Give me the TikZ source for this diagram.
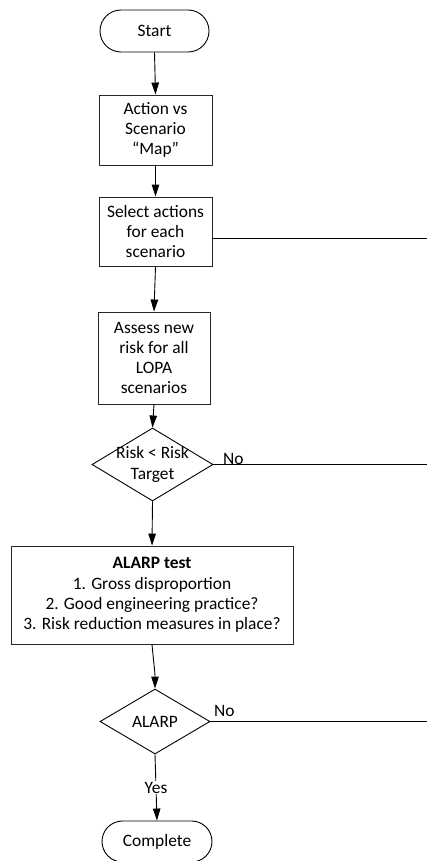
\documentclass[tikz,border=0pt]{standalone}
\usepackage{fontspec}
\setmainfont{Carlito}
\usetikzlibrary{shapes.misc,shapes.geometric,arrows.meta}
\begin{document}
\begin{tikzpicture}[x=1pt,y=1pt,
  every node/.style={font=\fontsize{17.4}{20.2}\selectfont, text=black},
  line/.style={draw=black, line width=0.9pt},
  arr/.style={line, -{Triangle[length=12pt,width=7.5pt]}},
  term/.style={rounded rectangle, draw=black, line width=0.9pt, inner sep=0pt},
  proc/.style={rectangle, draw=black!85, line width=0.9pt, inner sep=0pt, align=center},
  dec/.style={diamond, draw=black, line width=0.9pt, inner sep=0pt},
  lab/.style={inner sep=1pt}
]
\useasboundingbox (0,0) rectangle (427,-861);
\fill[white] (0,0) rectangle (427,-861);

\node[term, minimum width=109pt, minimum height=42pt] (start) at (154.5,-31) {Start};
\node[proc, minimum width=113pt, minimum height=70pt] (map) at (155.5,-130) {Action vs\\Scenario\\“Map”};
\node[proc, minimum width=113pt, minimum height=69pt] (sel) at (155.5,-231.5) {Select actions\\for each\\scenario};
\node[proc, minimum width=112pt, minimum height=92pt] (assess) at (154,-358) {Assess new\\risk for all\\LOPA\\scenarios};
\node[dec, minimum width=121pt, minimum height=73pt,
      label={[align=center, inner sep=0pt]center:Risk < Risk\\Target}] (risk) at (152.5,-464.5) {};
\node[proc, minimum width=282pt, minimum height=98pt] (test) at (152,-595)
  {\textbf{ALARP test}\\1. Gross disproportion\\2. Good engineering practice?\\3. Risk reduction measures in place?};
\node[dec, minimum width=110pt, minimum height=65pt] (alarp) at (155,-721.5) {ALARP};
\node[term, minimum width=110pt, minimum height=41pt] (done) at (157,-841.5) {Complete};

\coordinate (e1) at (427,-238);
\coordinate (e2) at (427,-464.5);
\coordinate (e3) at (427,-721.5);

\draw[arr] (start.south) -- (map.north);
\draw[arr] (map.south) -- (sel.north);
\draw[arr] (sel.south) -- (assess.north);
\draw[arr] (assess.south) -- (risk.north);
\draw[arr] (risk.south) -- (test.north);
\draw[arr] (test.south) to[out=-85,in=90] (alarp.north);
\draw[arr] (alarp.south) -- node[lab, fill=white, pos=0.5] {Yes} (done.north);

\draw[line] (sel.east |- e1) -- (e1);
\draw[line] (risk.east) -- (e2);
\draw[line] (alarp.east) -- (e3);

\node[lab, anchor=west] (no1) at (222,-459) {No};
\node[lab, anchor=west] (no2) at (213,-711) {No};
\end{tikzpicture}
\end{document}
